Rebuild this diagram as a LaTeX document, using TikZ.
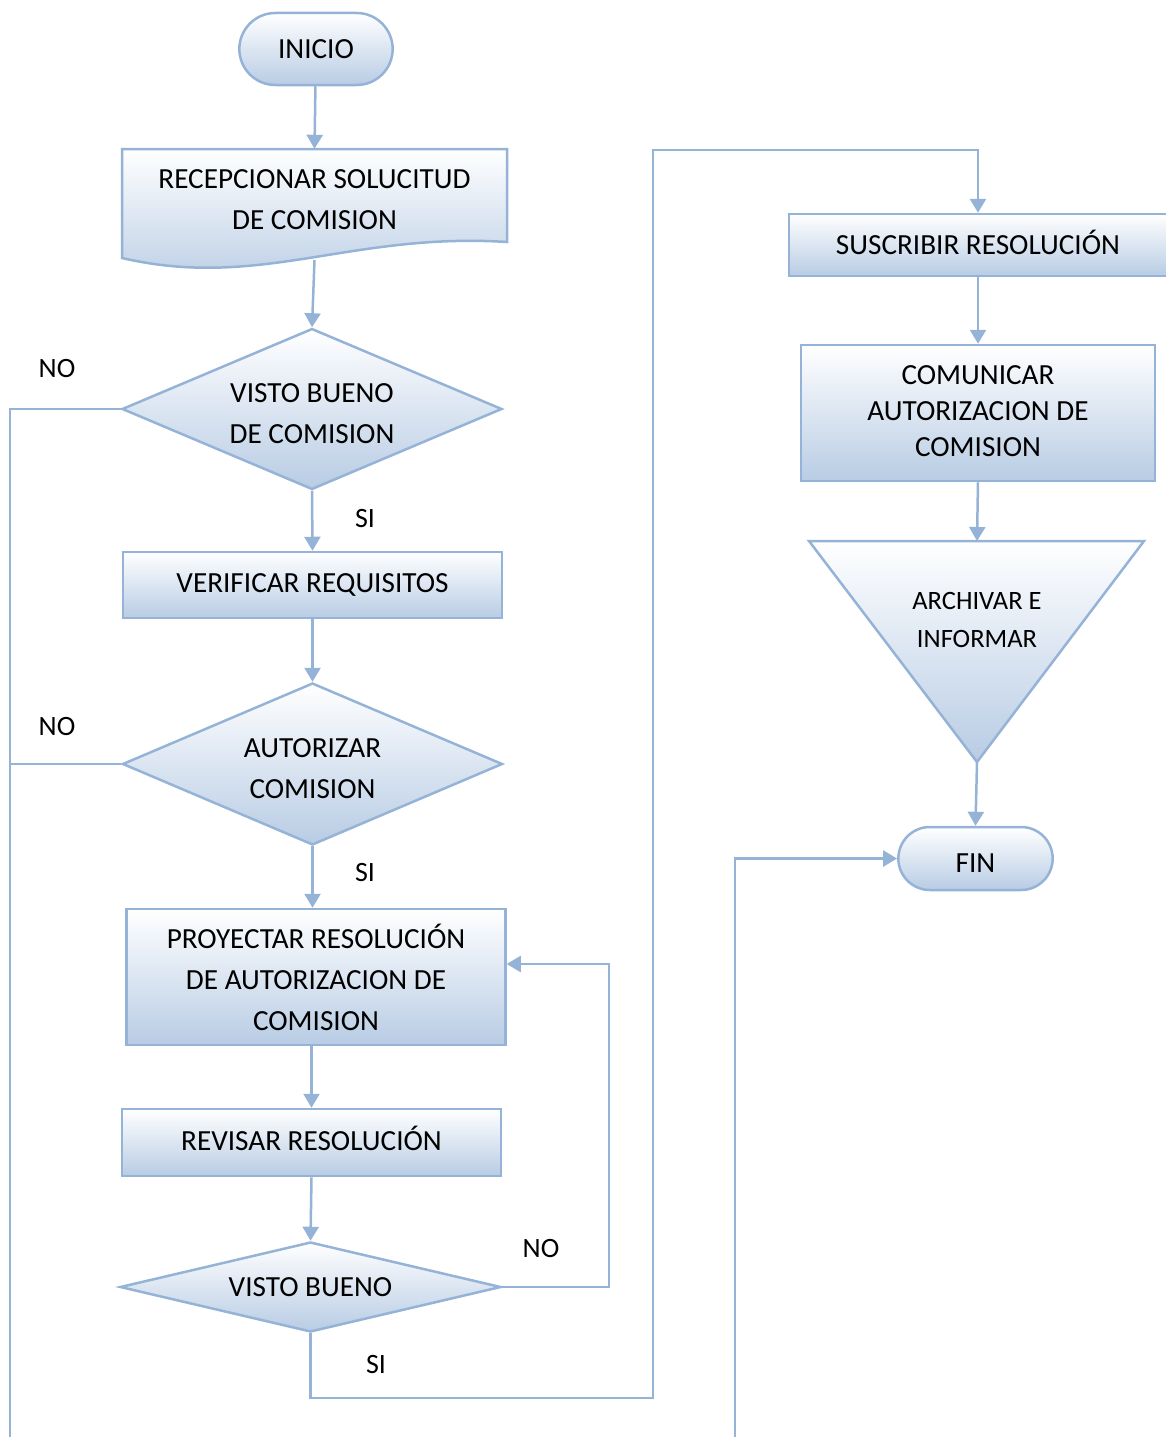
\documentclass[tikz,border=0pt]{standalone}
\usepackage{fontspec}
\setmainfont{Carlito}
\usepackage{tikz}
\usetikzlibrary{shapes.geometric, shapes.misc, arrows.meta}
\definecolor{flowline}{RGB}{149, 179, 215}
\definecolor{flowfill}{RGB}{184, 204, 228}

\begin{document}
\begin{tikzpicture}[
    x=1pt, y=-1pt,
    every node/.style={font=\fontsize{29.2}{41}\selectfont},
    shaded/.style={draw=flowline, line width=2.5pt, top color=white, bottom color=flowfill},
    terminal/.style={rounded rectangle, shaded, minimum width=160pt, minimum height=72pt},
    process/.style={rectangle, shaded, minimum width=379pt, minimum height=66pt, align=center, inner sep=0pt},
    decision/.style={diamond, shaded, minimum width=380pt, minimum height=161pt, aspect=2.36, align=center, inner sep=0pt},
    arrow/.style={-{Triangle[length=14pt, width=16pt]}, draw=flowline, line width=2.5pt},
    line/.style={draw=flowline, line width=2.5pt},
    answer/.style={font=\fontsize{28}{34}\selectfont}
]
\useasboundingbox (0,0) rectangle (1165,1437);

% Start
\node[terminal] (inicio) at (316,49) {INICIO};

% Request (document shape)
\path[shaded] (122,149) -- (507,149) -- (507,242)
    .. controls (350,232) and (260,290) .. (122,258) -- cycle;
\node[align=center, minimum width=385pt, minimum height=111pt, inner sep=0pt, text depth=9pt] (recep) at (314.5,204.5)
    {RECEPCIONAR SOLUCITUD\\DE COMISION};

% First check
\node[decision, text height=70pt] (vb1) at (312,409) {VISTO BUENO\\DE COMISION};
\node[process] (verificar) at (312.5,585) {VERIFICAR REQUISITOS};
\node[decision, minimum height=162pt, text height=70pt] (autorizar) at (312.5,764) {AUTORIZAR\\COMISION};

% Draft and review
\node[process, minimum height=136pt] (proyectar) at (316,977) {PROYECTAR RESOLUCIÓN\\DE AUTORIZACION DE\\COMISION};
\node[process, minimum height=67pt, text depth=9pt] (revisar) at (311.5,1142.5) {REVISAR RESOLUCIÓN};
\node[decision, minimum width=381pt, minimum height=90pt, aspect=4.23] (vb3) at (310.5,1287) {VISTO BUENO};

% Right column
\node[process, minimum width=378pt, minimum height=62pt, text depth=5pt] (suscribir) at (978,245) {SUSCRIBIR RESOLUCIÓN};
\node[process, minimum width=354pt, minimum height=136pt, font=\fontsize{29.2}{36}\selectfont, text depth=4pt] (comunicar) at (978,413)
    {COMUNICAR\\AUTORIZACION DE\\COMISION};

% Archive (inverted triangle)
\path[shaded] (809,541) -- (1144,541) -- (977,762) -- cycle;
\node[align=center, font=\fontsize{26.5}{38}\selectfont] (archivar) at (977,620) {ARCHIVAR E\\INFORMAR};
\coordinate (archtop) at (977,541);
\coordinate (archtip) at (977,762);

% End
\node[terminal, minimum width=161pt, minimum height=63pt, text height=27pt] (fin) at (975.5,858.5) {FIN};

% Answers
\node[answer] (no1) at (57,369) {NO};
\node[answer] (si1) at (365,519) {SI};
\node[answer] (no2) at (57,727) {NO};
\node[answer] (si2) at (365,873) {SI};
\node[answer] (no3) at (541,1248) {NO};
\node[answer] (si3) at (376,1364) {SI};

% Helper points for the long connectors
\coordinate (noleft) at (10,1437);
\coordinate (noret) at (609,964);
\coordinate (sibottom) at (653,1398);
\coordinate (sitop) at (653,150);
\coordinate (finin) at (735,1437);

% Main flow
\draw[arrow] (inicio) -- (recep.north);
\draw[arrow] (recep.south) -- (vb1.north);
\draw[arrow] (vb1.south) -- (verificar.north);
\draw[arrow] (verificar.south) -- (autorizar.north);
\draw[arrow] (autorizar.south) -- (autorizar.south |- proyectar.north);
\draw[arrow] (revisar.north |- proyectar.south) -- (revisar.north);
\draw[arrow] (revisar.south) -- (vb3.north);
\draw[arrow] (suscribir.south) -- (comunicar.north);
\draw[arrow] (comunicar.south) -- (archtop);
\draw[arrow] (archtip) -- (fin.north);

% Loops
\draw[line] (vb1.west) -| (noleft);
\draw[line] (autorizar.west) -- (autorizar.west -| noleft);
\draw[arrow] (vb3.east) -| (noret) -- (noret -| proyectar.east);
\draw[arrow] (vb3.south) |- (sibottom) -- (sitop) -| (suscribir.north);
\draw[arrow] (finin) |- (fin.west);

\end{tikzpicture}
\end{document}
